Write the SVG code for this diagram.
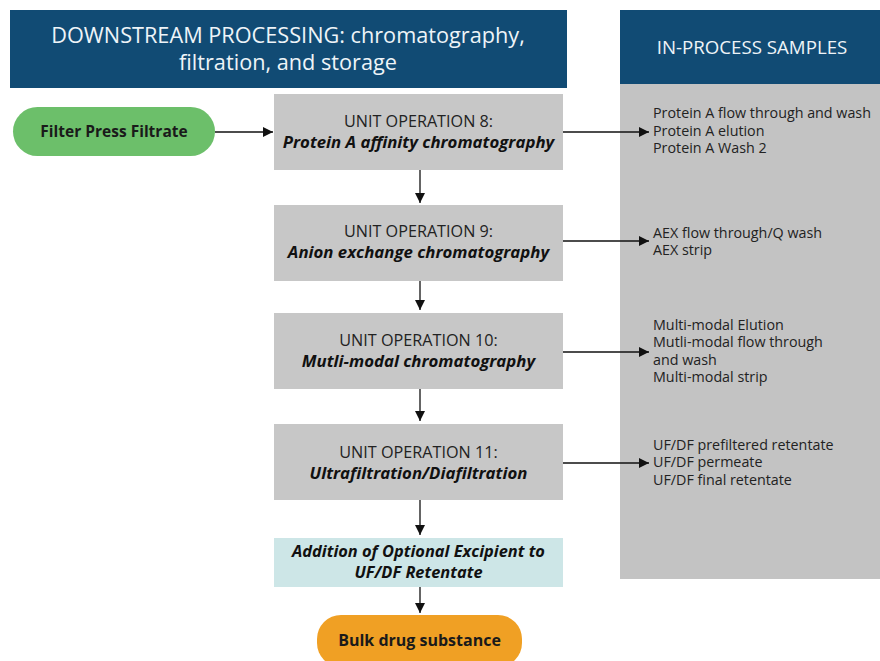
<svg xmlns="http://www.w3.org/2000/svg" width="880" height="661" viewBox="0 0 880 661">
  <defs>
    <marker id="arrow" viewBox="0 0 10 10" refX="10" refY="5" markerWidth="10" markerHeight="10" markerUnits="userSpaceOnUse" orient="auto">
      <path d="M0,0 L10,5 L0,10 z" fill="#111"/>
    </marker>
    <style>
      text { font-family: "Open Sans", "Noto Sans", "Liberation Sans", sans-serif; }
      .hdr { fill: #114b74; }
      .hdrtxt { fill: #eef4f8; font-size: 21.7px; text-anchor: middle; }
      .panel { fill: #c3c3c3; }
      .box { fill: #c7c7c7; }
      .op { fill: #222; font-size: 16.2px; text-anchor: middle; }
      .opname { fill: #111; font-size: 16.8px; font-weight: bold; font-style: italic; text-anchor: middle; }
      .sample { fill: #222; font-size: 14.3px; }
      .pilltxt { fill: #1a1a1a; font-weight: bold; text-anchor: middle; }
      .conn { stroke: #111; stroke-width: 1.3; fill: none; marker-end: url(#arrow); }
    </style>
  </defs>
  <rect width="880" height="661" fill="#ffffff"/>

  <!-- section headers -->
  <g id="header-downstream">
    <rect class="hdr" x="10" y="10" width="557" height="78"/>
    <text class="hdrtxt" x="288" y="43">DOWNSTREAM PROCESSING: chromatography,</text>
    <text class="hdrtxt" x="288" y="70">filtration, and storage</text>
  </g>
  <g id="header-samples">
    <rect class="hdr" x="620" y="10" width="260" height="74"/>
    <text class="hdrtxt" x="752" y="54" style="font-size:18.7px">IN-PROCESS SAMPLES</text>
  </g>

  <!-- sample list panel -->
  <g id="samples-panel">
    <rect class="panel" x="620" y="84" width="260" height="495"/>
  </g>

  <!-- process nodes -->
  <g id="filter-press-filtrate">
    <rect x="13" y="107" width="202" height="49" rx="24.5" fill="#6cbf6a"/>
    <text class="pilltxt" x="114" y="137" style="font-size:15.5px">Filter Press Filtrate</text>
  </g>
  <g id="unit-op-8">
    <rect class="box" x="274" y="94" width="289" height="76"/>
    <text class="op" x="418.5" y="127">UNIT OPERATION 8:</text>
    <text class="opname" x="418.5" y="148">Protein A affinity chromatography</text>
  </g>
  <g id="unit-op-9">
    <rect class="box" x="274" y="205" width="289" height="76"/>
    <text class="op" x="418.5" y="237">UNIT OPERATION 9:</text>
    <text class="opname" x="418.5" y="258">Anion exchange chromatography</text>
  </g>
  <g id="unit-op-10">
    <rect class="box" x="274" y="313" width="289" height="76"/>
    <text class="op" x="418.5" y="346">UNIT OPERATION 10:</text>
    <text class="opname" x="418.5" y="367">Mutli-modal chromatography</text>
  </g>
  <g id="unit-op-11">
    <rect class="box" x="274" y="424" width="289" height="76"/>
    <text class="op" x="418.5" y="458">UNIT OPERATION 11:</text>
    <text class="opname" x="418.5" y="479">Ultrafiltration/Diafiltration</text>
  </g>
  <g id="excipient-addition">
    <rect x="274" y="538" width="289" height="49" fill="#cde6e7"/>
    <text class="opname" x="418.5" y="557" style="font-size:16.4px">Addition of Optional Excipient to</text>
    <text class="opname" x="418.5" y="578" style="font-size:16.4px">UF/DF Retentate</text>
  </g>
  <g id="bulk-drug-substance">
    <rect x="317" y="615" width="205" height="52" rx="24" fill="#f0a024"/>
    <text class="pilltxt" x="419.5" y="646" style="font-size:16px">Bulk drug substance</text>
  </g>

  <!-- in-process sample lists -->
  <g id="samples-op-8">
    <text class="sample" x="653" y="118">Protein A flow through and wash</text>
    <text class="sample" x="653" y="135.5">Protein A elution</text>
    <text class="sample" x="653" y="153">Protein A Wash 2</text>
  </g>
  <g id="samples-op-9">
    <text class="sample" x="653" y="237.5">AEX flow through/Q wash</text>
    <text class="sample" x="653" y="255">AEX strip</text>
  </g>
  <g id="samples-op-10">
    <text class="sample" x="653" y="329.5">Multi-modal Elution</text>
    <text class="sample" x="653" y="347">Mutli-modal flow through</text>
    <text class="sample" x="653" y="364.5">and wash</text>
    <text class="sample" x="653" y="382">Multi-modal strip</text>
  </g>
  <g id="samples-op-11">
    <text class="sample" x="653" y="449.5">UF/DF prefiltered retentate</text>
    <text class="sample" x="653" y="467">UF/DF permeate</text>
    <text class="sample" x="653" y="484.5">UF/DF final retentate</text>
  </g>

  <!-- connectors -->
  <g id="connectors">
    <line class="conn" x1="215" y1="132" x2="273" y2="132"/>
    <line class="conn" x1="563" y1="132" x2="649" y2="132"/>
    <line class="conn" x1="563" y1="241" x2="649" y2="241"/>
    <line class="conn" x1="563" y1="352" x2="649" y2="352"/>
    <line class="conn" x1="563" y1="463" x2="649" y2="463"/>
    <line class="conn" x1="420" y1="170" x2="420" y2="203"/>
    <line class="conn" x1="420" y1="281" x2="420" y2="310"/>
    <line class="conn" x1="420" y1="389" x2="420" y2="421"/>
    <line class="conn" x1="420" y1="500" x2="420" y2="535"/>
    <line class="conn" x1="420" y1="587" x2="420" y2="613"/>
  </g>
</svg>
